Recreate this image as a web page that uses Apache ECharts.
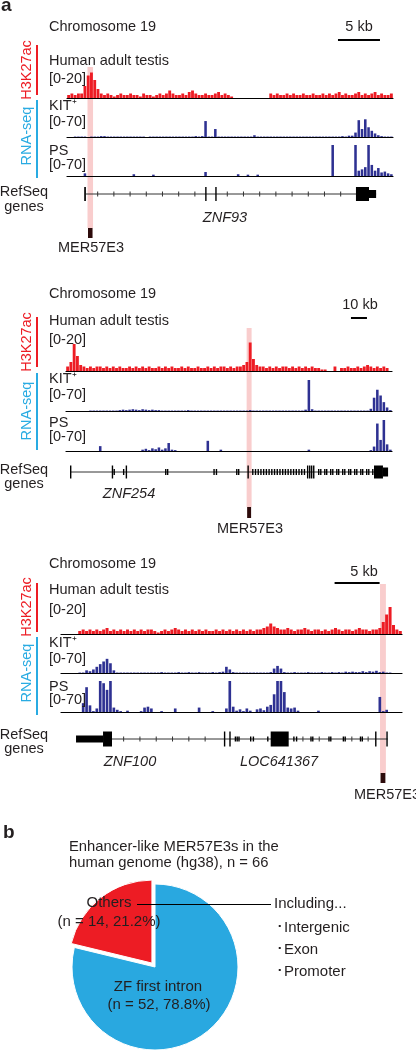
<!DOCTYPE html>
<html><head><meta charset="utf-8">
<script src="https://cdn.jsdelivr.net/npm/echarts@6/dist/echarts.min.js"></script>
<style>html,body{margin:0;padding:0;background:#fff}#c{width:416px;height:1050px}</style>
</head><body><div id="c"></div>
<script>
// ---------- DATA (binned signal, 100 bins per window) ----------
// Window 1 (ZNF93), H3K27ac [0-20], KIT+ RNA-seq [0-70], PS RNA-seq [0-70]
const w1Red = [2,3,2,3,3,8,15,17,12,6, 3,2,3,2,1,2,3,2,2,3, 2,2,1,3,2,2,1,2,3,2, 3,5,3,2,2,3,2,4,5,3, 2,2,3,2,2,3,4,2,3,2,
               1,0,0,0,0,0,0,0,0,0, 0,0,3,2,3,2,2,3,2,3, 2,2,3,2,2,3,2,2,3,2, 3,2,3,4,2,3,2,2,3,4, 2,3,2,3,4,2,3,2,2,3];
const w1Kit = [0,0,1,1,1,1,0,1,1,1, 2,2,1,1,1,1,1,1,1,1, 1,1,1,1,0,1,1,1,1,1, 1,1,1,1,1,1,1,1,1,2, 1,2,36,1,1,18,1,1,1,1,
               1,1,1,1,1,1,1,4,1,1, 1,1,1,1,1,1,1,1,1,1, 1,1,1,1,1,1,1,1,1,1, 1,1,1,1,2,1,3,3,10,38, 18,40,22,14,8,4,2,1,1,1];
const w1Ps  = [0,0,0,0,0,6,0,0,0,0, 0,0,0,0,0,0,0,0,0,0, 4,0,0,0,0,0,3,0,0,0, 0,0,0,0,0,0,0,0,0,0, 0,0,9,0,0,0,0,0,0,0,
               0,0,4,0,0,3,0,0,3,0, 0,0,0,0,0,0,0,0,0,0, 0,0,0,0,0,0,0,0,0,0, 0,70,0,0,0,0,0,0,70,12, 15,20,70,25,12,18,8,10,6,4];
// Window 2 (ZNF254)
const w2Red = [3,6,18,10,4,3,2,3,2,3, 3,2,3,2,3,2,3,2,2,3, 2,3,2,3,2,3,2,2,3,2, 3,2,3,2,2,3,2,3,2,2, 3,2,2,3,2,3,2,3,3,2,
               3,2,3,3,4,6,19,8,4,3, 3,2,3,2,3,2,3,3,2,3, 2,3,2,3,2,3,2,2,1,1, 0,0,3,0,2,2,3,2,2,3, 2,3,4,3,2,3,2,3,2,0];
const w2Kit = [0,0,0,0,0,0,0,1,1,1, 1,1,1,1,1,1,2,3,2,3, 4,3,2,4,3,2,3,2,2,1, 1,1,1,1,1,1,1,2,1,1, 1,1,1,1,1,1,1,1,1,1,
               1,1,1,1,1,1,2,1,1,1, 1,1,1,1,1,1,1,1,1,1, 1,1,1,3,70,4,1,1,1,1, 1,1,1,1,1,1,1,1,1,1, 1,1,1,5,30,48,35,20,8,2];
const w2Ps  = [0,0,0,0,0,0,0,0,0,0, 11,0,0,0,0,0,0,0,0,0, 0,0,0,3,5,2,6,4,8,3, 6,18,3,2,0,0,0,0,0,0, 0,0,0,23,0,0,0,3,0,0,
               0,0,0,0,0,0,0,0,0,0, 0,0,0,0,0,0,0,0,0,0, 0,0,0,0,3,0,0,0,0,0, 0,0,0,0,0,0,0,0,0,0, 0,0,0,2,10,62,25,70,15,3];
// Window 3 (ZNF100 / LOC641367)
const w3Red = [0,0,0,0,0,2,3,2,3,2, 3,2,3,4,2,3,2,3,2,3, 2,3,2,3,2,3,3,2,1,2, 3,2,3,4,3,2,3,2,3,2, 3,2,3,2,2,3,2,3,2,3,
               2,3,2,3,2,3,2,3,3,4, 5,7,5,4,3,3,4,3,2,3, 3,4,3,2,3,3,2,3,2,3, 4,3,2,3,3,2,3,4,3,3, 2,3,3,4,8,13,18,6,3,2];
const w3Kit = [0,0,0,0,0,1,1,6,4,8, 14,20,26,32,22,6,1,1,1,1, 1,1,1,1,1,1,1,1,1,2, 1,1,1,1,2,1,1,2,1,1, 2,1,1,1,2,1,2,3,14,8,
               2,1,1,1,1,1,1,1,1,1, 1,2,10,16,10,2,1,1,2,1, 1,1,2,1,1,1,2,1,1,2, 1,2,1,3,2,3,2,2,4,2, 4,3,5,2,3,1,1,0,0,0];
const w3Ps  = [0,0,0,0,0,0,20,56,15,2, 8,70,65,50,70,10,5,2,0,3, 0,0,0,2,10,12,8,0,0,2, 0,0,0,8,0,0,0,0,0,0, 10,0,0,0,2,0,0,0,8,70,
               12,3,6,2,8,3,0,6,8,4, 12,16,40,70,70,45,10,8,10,3, 0,0,0,0,0,3,0,0,0,0, 0,0,0,0,0,0,0,0,0,0, 0,0,0,34,2,5,0,0,0,0];

// Window spans (kb)
const spans = [38.81, 203.75, 37.89];
// Gene models (kb): introns [start,end]; exons [start,end,kind] kind 2=coding, 1=UTR, 0=small
const gene1Introns = [[2.26, 36.8]];
const gene1Exons = [[2.05,2.25,2],[16.45,16.6,2],[17.65,17.8,2],[34.4,35.95,2],[35.95,36.8,1]];
const gene2Introns = [[2.5, 200.6]];
const gene2Exons = [[2.5,2.9,2],[28.6,29.0,2],[29.7,30.1,0],[35.6,36.0,0],[37.3,37.7,2],[61.9,62.3,0],[63.1,63.5,0],
  [92.1,92.5,0],[93.6,94.0,0],[106.3,106.7,0],[107.5,107.9,0],[113.4,114.0,2],
  [116.3,116.7,0],[118.0,118.4,0],[119.7,120.1,0],[121.4,121.8,0],[123.1,123.5,0],[124.8,125.2,0],[126.5,126.9,0],
  [128.2,128.6,0],[129.9,130.3,0],[131.6,132.0,0],[133.3,133.7,0],[135.0,135.4,0],[136.7,137.1,0],[138.4,138.8,0],
  [140.1,140.5,0],[141.8,142.2,0],[143.5,143.9,0],[145.2,145.6,0],[146.9,147.3,0],[148.6,149.0,0],
  [150.6,151.0,2],[151.9,152.3,2],[153.1,153.5,2],[154.4,154.8,2],
  [157.5,157.9,0],[158.8,159.2,0],[161.3,161.7,0],[162.5,162.9,0],[165.0,165.4,0],[166.3,166.7,0],[168.8,169.2,0],
  [170.0,170.4,0],[172.5,172.9,0],[173.8,174.2,0],[176.3,176.7,0],[177.5,177.9,0],[180.0,180.4,0],[181.3,181.7,0],
  [183.8,184.2,0],[185.0,185.4,0],[187.5,187.9,0],[188.8,189.2,0],[191.3,191.7,0],[192.5,198.1,2],[198.1,201.3,1]];
const gene3Introns = [[1.67, 36.3]];
const gene3Exons = [[1.67,4.67,1],[4.67,5.67,2],[18.1,18.25,2],[18.7,18.85,2],[19.3,19.38,0],[19.5,19.58,0],[19.7,19.78,0],
  [21.0,21.08,0],[21.3,21.38,0],[22.9,22.98,0],[23.3,25.3,2],[25.8,25.88,0],[26.1,26.18,0],[27.7,27.78,0],[27.9,27.98,0],
  [29.7,29.78,0],[29.9,29.98,0],[31.3,31.38,0],[31.5,31.58,0],[33.2,33.28,0],[33.4,33.48,0],[34.9,35.05,2],[36.15,36.3,2]];
// MER57E3 positions (kb) and scale bars (kb)
const mer1 = [[2.44, 3.1]], mer2 = [[112.9, 116.0]], mer3 = [[35.45, 36.1]];
const scale1 = [[32.26, 37.26]], scale2 = [[178.1, 188.1]], scale3 = [[30.4, 35.4]];
const scaleLabels = ['5 kb', '10 kb', '5 kb'];
const geneNames = [['ZNF93'], ['ZNF254'], ['ZNF100', 'LOC641367']];
const trackNames = ['Human adult testis', 'KIT\u207A', 'PS'];
const trackRanges = ['[0-20]', '[0-70]', '[0-70]'];
const trackMax = [20, 70, 70];
// Pie
const pieNames = ['ZF first intron', 'Others'];
const pieValues = [52, 14];
const includingItems = ['Intergenic', 'Exon', 'Promoter'];

// ---------- LAYOUT / STYLE ----------
const FONT = '"Liberation Sans", Arial, Helvetica, sans-serif';
const TXT = '#231f20', RED = '#ed1c24', NAVY = '#2e3192', CYAN = '#29abe2', PINK = '#f9cdcd', DARK = '#2d0b0b', PIEBLUE = '#29a8e0';
const lays = [
  {left:67, width:326, bases:[98,137,176], geneY:194, bandTop:67, boxTop:228, boxBot:238, scaleY:40, tick:16.2, tickOff:11.7, cdsH:14, utrH:8, miniH:5,
   txt:{chrom:[49,27], kb:[359,27], lab:[[49,61],[49,106],[49,151]], rng:[[49,79],[49,122],[49,165]], refseq:[24,192], genes:[24,207],
        h3:[27,70], h3line:[45,95], rna:[27,136], rnaline:[100,178], gl:[[225,218]], mer:[91,248]}},
  {left:66, width:326, bases:[371,411,451], geneY:472, bandTop:328, boxTop:507, boxBot:518, scaleY:318, tick:0, tickOff:0, cdsH:13, utrH:9, miniH:6,
   txt:{chrom:[49,294], kb:[360,305], lab:[[49,321],[49,379],[49,423]], rng:[[49,340],[49,395],[49,437]], refseq:[24,470], genes:[24,484],
        h3:[27,342], h3line:[317,367], rna:[27,411], rnaline:[373,450], gl:[[129,494]], mer:[250,529]}},
  {left:61, width:341, bases:[634,673,712], geneY:739, bandTop:584, boxTop:773, boxBot:783, scaleY:583, tick:16.3, tickOff:15, cdsH:15, utrH:7, miniH:5,
   txt:{chrom:[49,564], kb:[364,572], lab:[[49,590],[49,643],[49,687]], rng:[[49,610],[49,659],[49,700]], refseq:[24,735], genes:[24,749],
        h3:[27,607], h3line:[583,632], rna:[27,673], rnaline:[637,715], gl:[[130,762],[279,762]], mer:[387,795]}}
];
const windows = [
  {tracks:[w1Red,w1Kit,w1Ps], introns:gene1Introns, exons:gene1Exons, mer:mer1, scale:scale1},
  {tracks:[w2Red,w2Kit,w2Ps], introns:gene2Introns, exons:gene2Exons, mer:mer2, scale:scale2},
  {tracks:[w3Red,w3Kit,w3Ps], introns:gene3Introns, exons:gene3Exons, mer:mer3, scale:scale3}
];

const grids = [], xAxes = [], yAxes = [], series = [], graphics = [];
function font(size, o) { o = o || {}; return (o.italic ? 'italic ' : '') + (o.bold ? 'bold ' : '') + size + 'px ' + FONT; }
function T(text, x, y, o) {
  o = o || {};
  graphics.push({type:'text', x:x, y:y, rotation:o.rot || 0, silent:true, z:50,
    style:{text:text, font:font(o.size || 14.5, o), fill:o.color || TXT, align:o.align || 'left', verticalAlign:'middle'}});
}
function L(x1, y1, x2, y2, color, w) {
  graphics.push({type:'line', silent:true, z:50, shape:{x1:x1, y1:y1, x2:x2, y2:y2}, style:{stroke:color, lineWidth:w}});
}

windows.forEach((w, wi) => {
  const lay = lays[wi];
  w.tracks.forEach((arr, ti) => {
    const h = ti === 0 ? 30 : 31;
    const gi = grids.length;
    grids.push({left:lay.left, width:lay.width, top:lay.bases[ti] - h, height:h});
    xAxes.push({gridIndex:gi, type:'category', data:arr.map((_, i) => i), boundaryGap:true, z:6,
      axisLine:{show:true, lineStyle:{color:'#000', width:1.2}}, axisTick:{show:false}, axisLabel:{show:false}, splitLine:{show:false}});
    yAxes.push({gridIndex:gi, type:'value', min:0, max:trackMax[ti], show:false});
    series.push({type:'bar', xAxisIndex:gi, yAxisIndex:gi, data:arr, barWidth:ti === 0 ? '88%' : '78%', silent:true, z:3,
      itemStyle:{color:ti === 0 ? RED : NAVY}});
  });
  // overlay grid in kb
  const gi = grids.length;
  const top = Math.min(lay.scaleY, lay.bandTop) - 4;
  grids.push({left:lay.left, width:lay.width, top:top, height:lay.boxBot + 4 - top});
  xAxes.push({gridIndex:gi, type:'value', min:0, max:spans[wi], show:false});
  yAxes.push({gridIndex:gi, type:'value', min:0, max:1, show:false});
  const px = (api, v) => api.coord([v, 0])[0];
  const base = {type:'custom', coordinateSystem:'cartesian2d', xAxisIndex:gi, yAxisIndex:gi, silent:true, clip:false};
  series.push(Object.assign({}, base, {z:1, data:w.mer, renderItem:(p, api) => {
    const x1 = px(api, api.value(0)), x2 = px(api, api.value(1));
    return {type:'rect', shape:{x:x1, y:lay.bandTop, width:x2 - x1, height:lay.boxTop - lay.bandTop}, style:{fill:PINK}};
  }}));
  series.push(Object.assign({}, base, {z:7, data:w.mer, renderItem:(p, api) => {
    const x1 = px(api, api.value(0)), x2 = px(api, api.value(1));
    return {type:'rect', shape:{x:x1 + 0.5, y:lay.boxTop, width:x2 - x1 - 1, height:lay.boxBot - lay.boxTop}, style:{fill:DARK}};
  }}));
  series.push(Object.assign({}, base, {z:7, data:w.scale, renderItem:(p, api) => {
    const x1 = px(api, api.value(0)), x2 = px(api, api.value(1));
    return {type:'line', shape:{x1:x1, y1:lay.scaleY, x2:x2, y2:lay.scaleY}, style:{stroke:'#000', lineWidth:2}};
  }}));
  series.push(Object.assign({}, base, {z:6, data:w.introns, renderItem:(p, api) => {
    const x1 = px(api, api.value(0)), x2 = px(api, api.value(1)), y = lay.geneY;
    const ch = [{type:'line', shape:{x1:x1, y1:y, x2:x2, y2:y}, style:{stroke:'#333', lineWidth:1}}];
    if (lay.tick) {
      const ex = w.exons.map(e => [px(api, e[0]), px(api, e[1])]);
      for (let x = x1 + lay.tickOff; x < x2 - 4; x += lay.tick) {
        if (ex.some(q => x > q[0] - 5 && x < q[1] + 5)) continue;
        ch.push({type:'line', shape:{x1:x, y1:y - 2.5, x2:x, y2:y + 2.5}, style:{stroke:'#333', lineWidth:1}});
      }
    }
    return {type:'group', children:ch};
  }}));
  series.push(Object.assign({}, base, {z:7, data:w.exons, renderItem:(p, api) => {
    const x1 = px(api, api.value(0)), x2 = px(api, api.value(1)), k = api.value(2);
    const h = k === 2 ? lay.cdsH : (k === 1 ? lay.utrH : lay.miniH);
    return {type:'rect', shape:{x:x1, y:lay.geneY - h / 2, width:Math.max(x2 - x1, 1.4), height:h}, style:{fill:'#000'}};
  }}));

  // texts
  const t = lay.txt;
  T('Chromosome 19', t.chrom[0], t.chrom[1]);
  T(scaleLabels[wi], t.kb[0], t.kb[1], {align:'center'});
  trackNames.forEach((n, i) => { T(n, t.lab[i][0], t.lab[i][1]); T(trackRanges[i], t.rng[i][0], t.rng[i][1]); });
  T('RefSeq', t.refseq[0], t.refseq[1], {align:'center'});
  T('genes', t.genes[0], t.genes[1], {align:'center'});
  T('H3K27ac', t.h3[0], t.h3[1], {align:'center', color:RED, rot:Math.PI / 2});
  L(37, t.h3line[0], 37, t.h3line[1], RED, 2);
  T('RNA-seq', t.rna[0], t.rna[1], {align:'center', color:CYAN, rot:Math.PI / 2});
  L(37, t.rnaline[0], 37, t.rnaline[1], CYAN, 2);
  geneNames[wi].forEach((g, i) => T(g, t.gl[i][0], t.gl[i][1], {align:'center', italic:true}));
  T('MER57E3', t.mer[0], t.mer[1], {align:'center'});
});

T('a', 1, 6, {bold:true, size:19});
T('b', 3, 833, {bold:true, size:19});
T('Enhancer-like MER57E3s in the', 69, 847, {size:14.8});
T('human genome (hg38), n = ' + (pieValues[0] + pieValues[1]), 69, 863, {size:14.8});
const total = pieValues[0] + pieValues[1];
const pct = v => (v / total * 100).toFixed(1) + '%';
T(pieNames[1], 109, 903, {align:'center', size:15});
T('(n = ' + pieValues[1] + ', ' + pct(pieValues[1]) + ')', 109, 922, {align:'center', size:15});
T(pieNames[0], 158, 987, {align:'center', size:15});
T('(n = ' + pieValues[0] + ', ' + pct(pieValues[0]) + ')', 159, 1005, {align:'center', size:15});
L(137, 904.5, 271, 904.5, '#000', 1);
T('Including...', 274, 904, {size:15});
includingItems.forEach((s, i) => T('\uFF65' + s, 276, 928 + i * 22, {size:15}));

series.push({type:'pie', center:[155, 967], radius:[0, 83], startAngle:90, clockwise:true, silent:true,
  selectedMode:'single', selectedOffset:5, label:{show:false}, labelLine:{show:false}, emphasis:{disabled:true},
  itemStyle:{borderColor:'#fff', borderWidth:1},
  data:[{name:pieNames[0], value:pieValues[0], itemStyle:{color:PIEBLUE}},
        {name:pieNames[1], value:pieValues[1], selected:true, itemStyle:{color:RED}}]});

const chart = echarts.init(document.getElementById('c'), null, {renderer:'canvas'});
chart.setOption({animation:false, backgroundColor:'#fff', grid:grids, xAxis:xAxes, yAxis:yAxes, series:series, graphic:graphics});
</script></body></html>
